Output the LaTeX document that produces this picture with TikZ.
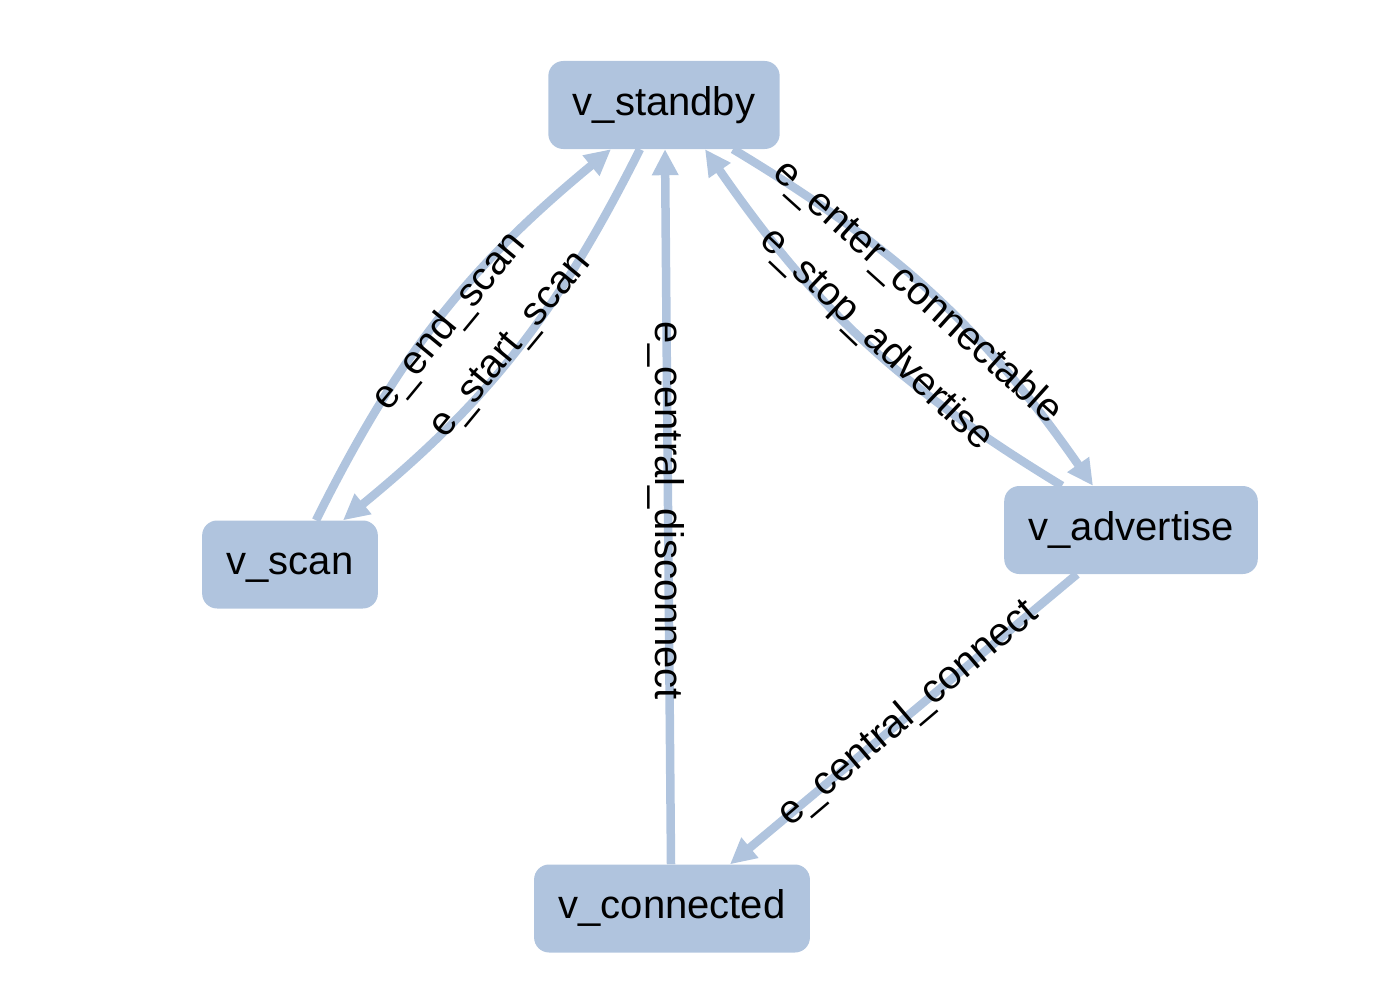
\documentclass[tikz,border=0pt]{standalone}
\usepackage{fontspec}
\setmainfont{Liberation Sans}
\usetikzlibrary{arrows.meta}
\definecolor{steel}{HTML}{B0C4DE}
\begin{document}
\begin{tikzpicture}[x=1pt,y=1pt,
  state/.style={fill=steel, rounded corners=15pt, minimum height=88pt,
    inner xsep=24.5pt, inner ysep=0pt, text height=29pt, text depth=9pt,
    font=\fontsize{40}{48}\selectfont},
  conn/.style={draw=steel, line width=8.5pt, -{Triangle[length=26pt,width=25pt]}},
  elabel/.style={font=\fontsize{40}{48}\selectfont, inner sep=0pt, text height=29pt, text depth=9pt}]
\useasboundingbox (0,0) rectangle (1376,-990);
% nodes
\node[state] (standby)   at (664,-105)   {v\_standby};
\node[state] (scan)      at (290,-564.5) {v\_scan};
\node[state] (advertise) at (1131,-530)  {v\_advertise};
\node[state] (connected) at (672,-908.5) {v\_connected};
% edges
\draw[conn] ([xshift=26pt]scan.north) to[bend left=12] ([xshift=-53pt]standby.south);
\draw[conn] ([xshift=-24pt]standby.south) to[bend left=12] ([xshift=53pt]scan.north);
\draw[conn] ([xshift=-1pt]connected.north) -- ([xshift=1pt]standby.south);
\draw[conn] ([xshift=69pt]standby.south) to[bend left=12] ([xshift=-38pt]advertise.north);
\draw[conn] ([xshift=-69pt]advertise.north) to[bend left=12] ([xshift=41pt]standby.south);
\draw[conn] ([xshift=-54pt]advertise.south) -- ([xshift=58pt]connected.north);
% edge labels
\node[elabel, rotate=50.5]  (l1) at (450,-322) {e\_end\_scan};
\node[elabel, rotate=50.5]  (l2) at (511,-345) {e\_start\_scan};
\node[elabel, rotate=-90]   (l3) at (665,-511) {e\_central\_disconnect};
\node[elabel, rotate=-42]   (l4) at (917,-293) {e\_enter\_connectable};
\node[elabel, rotate=-43.5] (l5) at (876,-340) {e\_stop\_advertise};
\node[elabel, rotate=40.3]  (l6) at (909,-714) {e\_central\_connect};
\end{tikzpicture}
\end{document}
